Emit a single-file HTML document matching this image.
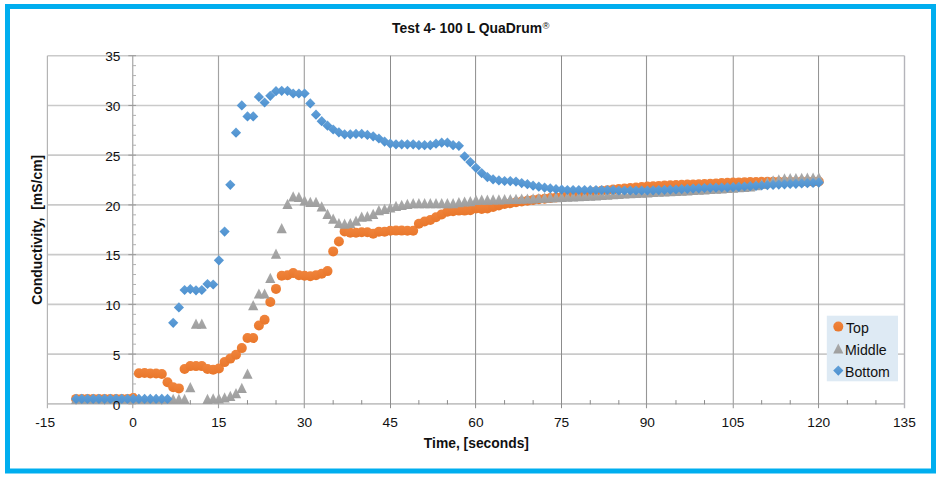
<!DOCTYPE html>
<html><head><meta charset="utf-8"><title>Test 4- 100 L QuaDrum</title>
<style>
html,body{margin:0;padding:0;background:#fff;}
body{width:940px;height:477px;overflow:hidden;}
svg{display:block;}
text{font-family:"Liberation Sans","Helvetica Neue",Helvetica,Arial,sans-serif;fill:#111;}
.b{font-weight:bold;}
</style></head><body>
<svg width="940" height="477" viewBox="0 0 940 477">
<defs>
<linearGradient id="go" x1="0" y1="0" x2="0" y2="1"><stop offset="0" stop-color="#F0843C"/><stop offset="1" stop-color="#E9772B"/></linearGradient>
<linearGradient id="gg" x1="0" y1="0" x2="0" y2="1"><stop offset="0" stop-color="#ABABAB"/><stop offset="1" stop-color="#9E9E9E"/></linearGradient>
<linearGradient id="gb" x1="0" y1="0" x2="0" y2="1"><stop offset="0" stop-color="#62A0D8"/><stop offset="1" stop-color="#4C90CF"/></linearGradient>
<circle id="c" r="5" fill="url(#go)"/>
<path id="t" d="M0-5.2L5.1 5H-5.1Z" fill="url(#gg)"/>
<path id="d" d="M0-5.1L5.1 0L0 5.1L-5.1 0Z" fill="url(#gb)"/>
</defs>
<rect x="0" y="0" width="940" height="477" fill="#fff"/>
<rect x="7.5" y="6.5" width="926" height="464.5" fill="#fff" stroke="#00AEEF" stroke-width="5"/>

<g stroke="#CACACA" stroke-width="1.6" fill="none">
<path d="M47.5 354.11H904.5"/>
<path d="M47.5 304.38H904.5"/>
<path d="M47.5 254.64H904.5"/>
<path d="M47.5 204.91H904.5"/>
<path d="M47.5 155.17H904.5"/>
<path d="M47.5 105.44H904.5"/>
<path d="M47.5 55.70H904.5"/>
</g>
<path d="M47.5 403.95H904.5" stroke="#C4C4C4" stroke-width="1.8" fill="none"/>
<path d="M218.50 55.7V408.2" stroke="#A2A2A2" stroke-width="1.15" fill="none"/>
<path d="M304.30 55.7V408.2" stroke="#A0A0A0" stroke-width="1.15" fill="none"/>
<path d="M390.50 55.7V408.2" stroke="#8C8C8C" stroke-width="1" fill="none"/>
<path d="M475.55 55.7V408.2" stroke="#969696" stroke-width="1.1" fill="none"/>
<path d="M561.50 55.7V408.2" stroke="#8C8C8C" stroke-width="1" fill="none"/>
<path d="M646.50 55.7V408.2" stroke="#969696" stroke-width="1.1" fill="none"/>
<path d="M733.30 55.7V408.2" stroke="#A4A4A4" stroke-width="1.2" fill="none"/>
<path d="M818.55 55.7V408.2" stroke="#909090" stroke-width="1" fill="none"/>
<path d="M47.40 55.7V408.2" stroke="#B4B4B4" stroke-width="1.2" fill="none"/>
<path d="M904.50 55.7V408.2" stroke="#B4B4BA" stroke-width="1.4" fill="none"/>
<path d="M132.75 55.7V408.2" stroke="#A6A6A6" stroke-width="1.2" fill="none"/>
<g stroke="#B0B0B0" stroke-width="1" fill="none">
<path d="M128.30 403.85H136.00" stroke="#9A9A9A"/>
<path d="M132.75 393.90H136.00"/>
<path d="M132.75 383.96H136.00"/>
<path d="M132.75 374.01H136.00"/>
<path d="M132.75 364.06H136.00"/>
<path d="M128.30 354.11H136.00" stroke="#9A9A9A"/>
<path d="M132.75 344.17H136.00"/>
<path d="M132.75 334.22H136.00"/>
<path d="M132.75 324.27H136.00"/>
<path d="M132.75 314.33H136.00"/>
<path d="M128.30 304.38H136.00" stroke="#9A9A9A"/>
<path d="M132.75 294.43H136.00"/>
<path d="M132.75 284.48H136.00"/>
<path d="M132.75 274.54H136.00"/>
<path d="M132.75 264.59H136.00"/>
<path d="M128.30 254.64H136.00" stroke="#9A9A9A"/>
<path d="M132.75 244.70H136.00"/>
<path d="M132.75 234.75H136.00"/>
<path d="M132.75 224.80H136.00"/>
<path d="M132.75 214.85H136.00"/>
<path d="M128.30 204.91H136.00" stroke="#9A9A9A"/>
<path d="M132.75 194.96H136.00"/>
<path d="M132.75 185.01H136.00"/>
<path d="M132.75 175.07H136.00"/>
<path d="M132.75 165.12H136.00"/>
<path d="M128.30 155.17H136.00" stroke="#9A9A9A"/>
<path d="M132.75 145.22H136.00"/>
<path d="M132.75 135.28H136.00"/>
<path d="M132.75 125.33H136.00"/>
<path d="M132.75 115.38H136.00"/>
<path d="M128.30 105.44H136.00" stroke="#9A9A9A"/>
<path d="M132.75 95.49H136.00"/>
<path d="M132.75 85.54H136.00"/>
<path d="M132.75 75.59H136.00"/>
<path d="M132.75 65.65H136.00"/>
<path d="M128.30 55.70H136.00" stroke="#9A9A9A"/>
</g>
<g stroke="#8A8A8A" stroke-width="1" fill="none">
<path d="M76.07 400.1V404.4"/>
<path d="M104.63 400.1V404.4"/>
<path d="M161.77 400.1V404.4"/>
<path d="M190.33 400.1V404.4"/>
<path d="M247.47 400.1V404.4"/>
<path d="M276.03 400.1V404.4"/>
<path d="M333.17 400.1V404.4"/>
<path d="M361.73 400.1V404.4"/>
<path d="M418.87 400.1V404.4"/>
<path d="M447.43 400.1V404.4"/>
<path d="M504.57 400.1V404.4"/>
<path d="M533.13 400.1V404.4"/>
<path d="M590.27 400.1V404.4"/>
<path d="M618.83 400.1V404.4"/>
<path d="M675.97 400.1V404.4"/>
<path d="M704.53 400.1V404.4"/>
<path d="M761.67 400.1V404.4"/>
<path d="M790.23 400.1V404.4"/>
<path d="M847.37 400.1V404.4"/>
<path d="M875.93 400.1V404.4"/>
</g>
<rect x="826.8" y="315.7" width="71.2" height="65.6" fill="#DEEAF4"/>
<g>
<use href="#c" x="76.1" y="398.9"/>
<use href="#c" x="81.8" y="398.9"/>
<use href="#c" x="87.5" y="398.9"/>
<use href="#c" x="93.2" y="398.9"/>
<use href="#c" x="98.9" y="398.9"/>
<use href="#c" x="104.6" y="398.9"/>
<use href="#c" x="110.3" y="398.9"/>
<use href="#c" x="116.1" y="398.9"/>
<use href="#c" x="121.8" y="398.9"/>
<use href="#c" x="127.5" y="398.9"/>
<use href="#c" x="133.2" y="398.1"/>
<use href="#c" x="138.9" y="373.2"/>
<use href="#c" x="144.6" y="373.0"/>
<use href="#c" x="150.3" y="373.5"/>
<use href="#c" x="156.1" y="373.5"/>
<use href="#c" x="161.8" y="374.0"/>
<use href="#c" x="167.5" y="382.3"/>
<use href="#c" x="173.2" y="387.3"/>
<use href="#c" x="178.9" y="388.4"/>
<use href="#c" x="184.6" y="369.0"/>
<use href="#c" x="190.3" y="366.1"/>
<use href="#c" x="196.0" y="366.1"/>
<use href="#c" x="201.8" y="366.1"/>
<use href="#c" x="207.5" y="369.0"/>
<use href="#c" x="213.2" y="369.7"/>
<use href="#c" x="218.9" y="368.5"/>
<use href="#c" x="224.6" y="362.1"/>
<use href="#c" x="230.3" y="358.6"/>
<use href="#c" x="236.0" y="354.8"/>
<use href="#c" x="241.8" y="348.1"/>
<use href="#c" x="247.5" y="338.0"/>
<use href="#c" x="253.2" y="338.0"/>
<use href="#c" x="258.9" y="325.5"/>
<use href="#c" x="264.6" y="319.8"/>
<use href="#c" x="270.3" y="302.0"/>
<use href="#c" x="276.0" y="288.9"/>
<use href="#c" x="281.7" y="275.8"/>
<use href="#c" x="287.5" y="275.2"/>
<use href="#c" x="293.2" y="273.1"/>
<use href="#c" x="298.9" y="275.2"/>
<use href="#c" x="304.6" y="275.8"/>
<use href="#c" x="310.3" y="276.2"/>
<use href="#c" x="316.0" y="275.2"/>
<use href="#c" x="321.7" y="273.7"/>
<use href="#c" x="327.5" y="271.1"/>
<use href="#c" x="333.2" y="251.4"/>
<use href="#c" x="338.9" y="241.5"/>
<use href="#c" x="344.6" y="231.5"/>
<use href="#c" x="350.3" y="232.8"/>
<use href="#c" x="356.0" y="232.8"/>
<use href="#c" x="361.7" y="232.3"/>
<use href="#c" x="367.4" y="232.3"/>
<use href="#c" x="373.2" y="233.8"/>
<use href="#c" x="378.9" y="231.8"/>
<use href="#c" x="384.6" y="231.8"/>
<use href="#c" x="390.3" y="230.8"/>
<use href="#c" x="396.0" y="230.6"/>
<use href="#c" x="401.7" y="230.6"/>
<use href="#c" x="407.4" y="230.8"/>
<use href="#c" x="413.2" y="230.8"/>
<use href="#c" x="418.9" y="223.8"/>
<use href="#c" x="424.6" y="221.5"/>
<use href="#c" x="430.3" y="220.0"/>
<use href="#c" x="436.0" y="217.3"/>
<use href="#c" x="441.7" y="214.4"/>
<use href="#c" x="447.4" y="211.7"/>
<use href="#c" x="453.1" y="211.3"/>
<use href="#c" x="458.9" y="210.6"/>
<use href="#c" x="464.6" y="210.6"/>
<use href="#c" x="470.3" y="210.2"/>
<use href="#c" x="476.0" y="208.5"/>
<use href="#c" x="481.7" y="208.9"/>
<use href="#c" x="487.4" y="208.5"/>
<use href="#c" x="493.1" y="206.9"/>
<use href="#c" x="498.9" y="205.4"/>
<use href="#c" x="504.6" y="203.9"/>
<use href="#c" x="510.3" y="203.3"/>
<use href="#c" x="516.0" y="202.2"/>
<use href="#c" x="521.7" y="201.5"/>
<use href="#c" x="527.4" y="200.7"/>
<use href="#c" x="533.1" y="199.9"/>
<use href="#c" x="538.8" y="199.3"/>
<use href="#c" x="544.6" y="198.7"/>
<use href="#c" x="550.3" y="198.1"/>
<use href="#c" x="556.0" y="197.5"/>
<use href="#c" x="561.7" y="196.9"/>
<use href="#c" x="567.4" y="196.0"/>
<use href="#c" x="573.1" y="195.0"/>
<use href="#c" x="578.8" y="194.0"/>
<use href="#c" x="584.6" y="193.0"/>
<use href="#c" x="590.3" y="192.0"/>
<use href="#c" x="596.0" y="191.4"/>
<use href="#c" x="601.7" y="190.8"/>
<use href="#c" x="607.4" y="190.2"/>
<use href="#c" x="613.1" y="189.6"/>
<use href="#c" x="618.8" y="189.0"/>
<use href="#c" x="624.5" y="188.5"/>
<use href="#c" x="630.3" y="188.0"/>
<use href="#c" x="636.0" y="187.5"/>
<use href="#c" x="641.7" y="187.0"/>
<use href="#c" x="647.4" y="186.5"/>
<use href="#c" x="653.1" y="186.2"/>
<use href="#c" x="658.8" y="185.9"/>
<use href="#c" x="664.5" y="185.6"/>
<use href="#c" x="670.3" y="185.3"/>
<use href="#c" x="676.0" y="185.0"/>
<use href="#c" x="681.7" y="184.8"/>
<use href="#c" x="687.4" y="184.6"/>
<use href="#c" x="693.1" y="184.4"/>
<use href="#c" x="698.8" y="184.2"/>
<use href="#c" x="704.5" y="184.0"/>
<use href="#c" x="710.2" y="183.7"/>
<use href="#c" x="716.0" y="183.4"/>
<use href="#c" x="721.7" y="183.1"/>
<use href="#c" x="727.4" y="182.8"/>
<use href="#c" x="733.1" y="182.5"/>
<use href="#c" x="738.8" y="182.4"/>
<use href="#c" x="744.5" y="182.2"/>
<use href="#c" x="750.2" y="182.1"/>
<use href="#c" x="756.0" y="182.0"/>
<use href="#c" x="761.7" y="181.8"/>
<use href="#c" x="767.4" y="181.8"/>
<use href="#c" x="773.1" y="181.8"/>
<use href="#c" x="778.8" y="181.7"/>
<use href="#c" x="784.5" y="181.7"/>
<use href="#c" x="790.2" y="181.7"/>
<use href="#c" x="795.9" y="181.7"/>
<use href="#c" x="801.7" y="181.6"/>
<use href="#c" x="807.4" y="181.6"/>
<use href="#c" x="813.1" y="181.6"/>
<use href="#c" x="818.8" y="181.5"/>
</g>
<g>
<use href="#t" x="76.1" y="398.9"/>
<use href="#t" x="81.8" y="398.9"/>
<use href="#t" x="87.5" y="398.9"/>
<use href="#t" x="93.2" y="398.9"/>
<use href="#t" x="98.9" y="398.9"/>
<use href="#t" x="104.6" y="398.9"/>
<use href="#t" x="110.3" y="398.9"/>
<use href="#t" x="116.1" y="398.9"/>
<use href="#t" x="121.8" y="398.9"/>
<use href="#t" x="127.5" y="398.9"/>
<use href="#t" x="133.2" y="398.9"/>
<use href="#t" x="138.9" y="398.9"/>
<use href="#t" x="144.6" y="398.9"/>
<use href="#t" x="150.3" y="398.9"/>
<use href="#t" x="156.1" y="398.9"/>
<use href="#t" x="161.8" y="398.9"/>
<use href="#t" x="167.5" y="398.9"/>
<use href="#t" x="173.2" y="398.9"/>
<use href="#t" x="178.9" y="398.9"/>
<use href="#t" x="184.6" y="398.9"/>
<use href="#t" x="190.3" y="387.3"/>
<use href="#t" x="196.0" y="323.7"/>
<use href="#t" x="201.8" y="323.7"/>
<use href="#t" x="207.5" y="398.9"/>
<use href="#t" x="213.2" y="398.4"/>
<use href="#t" x="218.9" y="398.4"/>
<use href="#t" x="224.6" y="397.4"/>
<use href="#t" x="230.3" y="395.9"/>
<use href="#t" x="236.0" y="393.2"/>
<use href="#t" x="241.8" y="387.9"/>
<use href="#t" x="247.5" y="373.7"/>
<use href="#t" x="253.2" y="305.2"/>
<use href="#t" x="258.9" y="293.6"/>
<use href="#t" x="264.6" y="293.6"/>
<use href="#t" x="270.3" y="277.9"/>
<use href="#t" x="276.0" y="253.8"/>
<use href="#t" x="281.7" y="228.3"/>
<use href="#t" x="287.5" y="203.9"/>
<use href="#t" x="293.2" y="196.5"/>
<use href="#t" x="298.9" y="196.9"/>
<use href="#t" x="304.6" y="200.4"/>
<use href="#t" x="310.3" y="201.9"/>
<use href="#t" x="316.0" y="201.9"/>
<use href="#t" x="321.7" y="206.4"/>
<use href="#t" x="327.5" y="213.9"/>
<use href="#t" x="333.2" y="218.8"/>
<use href="#t" x="338.9" y="223.1"/>
<use href="#t" x="344.6" y="223.8"/>
<use href="#t" x="350.3" y="223.1"/>
<use href="#t" x="356.0" y="220.8"/>
<use href="#t" x="361.7" y="216.8"/>
<use href="#t" x="367.4" y="216.3"/>
<use href="#t" x="373.2" y="213.9"/>
<use href="#t" x="378.9" y="210.2"/>
<use href="#t" x="384.6" y="208.9"/>
<use href="#t" x="390.3" y="207.4"/>
<use href="#t" x="396.0" y="205.9"/>
<use href="#t" x="401.7" y="204.9"/>
<use href="#t" x="407.4" y="203.9"/>
<use href="#t" x="413.2" y="203.3"/>
<use href="#t" x="418.9" y="203.3"/>
<use href="#t" x="424.6" y="203.3"/>
<use href="#t" x="430.3" y="203.3"/>
<use href="#t" x="436.0" y="203.3"/>
<use href="#t" x="441.7" y="203.3"/>
<use href="#t" x="447.4" y="203.3"/>
<use href="#t" x="453.1" y="203.3"/>
<use href="#t" x="458.9" y="202.2"/>
<use href="#t" x="464.6" y="201.6"/>
<use href="#t" x="470.3" y="201.2"/>
<use href="#t" x="476.0" y="199.9"/>
<use href="#t" x="481.7" y="199.8"/>
<use href="#t" x="487.4" y="199.7"/>
<use href="#t" x="493.1" y="199.5"/>
<use href="#t" x="498.9" y="199.4"/>
<use href="#t" x="504.6" y="199.2"/>
<use href="#t" x="510.3" y="199.1"/>
<use href="#t" x="516.0" y="198.9"/>
<use href="#t" x="521.7" y="198.8"/>
<use href="#t" x="527.4" y="198.6"/>
<use href="#t" x="533.1" y="198.4"/>
<use href="#t" x="538.8" y="198.1"/>
<use href="#t" x="544.6" y="197.8"/>
<use href="#t" x="550.3" y="197.5"/>
<use href="#t" x="556.0" y="197.2"/>
<use href="#t" x="561.7" y="196.9"/>
<use href="#t" x="567.4" y="196.7"/>
<use href="#t" x="573.1" y="196.5"/>
<use href="#t" x="578.8" y="196.2"/>
<use href="#t" x="584.6" y="196.0"/>
<use href="#t" x="590.3" y="195.8"/>
<use href="#t" x="596.0" y="195.4"/>
<use href="#t" x="601.7" y="195.0"/>
<use href="#t" x="607.4" y="194.7"/>
<use href="#t" x="613.1" y="194.3"/>
<use href="#t" x="618.8" y="194.0"/>
<use href="#t" x="624.5" y="193.6"/>
<use href="#t" x="630.3" y="193.3"/>
<use href="#t" x="636.0" y="193.0"/>
<use href="#t" x="641.7" y="192.7"/>
<use href="#t" x="647.4" y="192.4"/>
<use href="#t" x="653.1" y="192.1"/>
<use href="#t" x="658.8" y="191.8"/>
<use href="#t" x="664.5" y="191.5"/>
<use href="#t" x="670.3" y="191.3"/>
<use href="#t" x="676.0" y="191.0"/>
<use href="#t" x="681.7" y="190.7"/>
<use href="#t" x="687.4" y="190.4"/>
<use href="#t" x="693.1" y="190.1"/>
<use href="#t" x="698.8" y="189.8"/>
<use href="#t" x="704.5" y="189.5"/>
<use href="#t" x="710.2" y="189.1"/>
<use href="#t" x="716.0" y="188.8"/>
<use href="#t" x="721.7" y="188.4"/>
<use href="#t" x="727.4" y="188.1"/>
<use href="#t" x="733.1" y="187.7"/>
<use href="#t" x="738.8" y="187.3"/>
<use href="#t" x="744.5" y="186.9"/>
<use href="#t" x="750.2" y="186.5"/>
<use href="#t" x="756.0" y="185.3"/>
<use href="#t" x="761.7" y="184.0"/>
<use href="#t" x="767.4" y="182.2"/>
<use href="#t" x="773.1" y="180.5"/>
<use href="#t" x="778.8" y="179.5"/>
<use href="#t" x="784.5" y="178.5"/>
<use href="#t" x="790.2" y="178.3"/>
<use href="#t" x="795.9" y="178.1"/>
<use href="#t" x="801.7" y="177.9"/>
<use href="#t" x="807.4" y="177.7"/>
<use href="#t" x="813.1" y="177.6"/>
<use href="#t" x="818.8" y="177.5"/>
</g>
<g>
<use href="#d" x="76.1" y="398.9"/>
<use href="#d" x="81.8" y="398.9"/>
<use href="#d" x="87.5" y="398.9"/>
<use href="#d" x="93.2" y="398.9"/>
<use href="#d" x="98.9" y="398.9"/>
<use href="#d" x="104.6" y="398.9"/>
<use href="#d" x="110.3" y="398.9"/>
<use href="#d" x="116.1" y="398.9"/>
<use href="#d" x="121.8" y="398.9"/>
<use href="#d" x="127.5" y="398.9"/>
<use href="#d" x="133.2" y="398.9"/>
<use href="#d" x="138.9" y="398.9"/>
<use href="#d" x="144.6" y="398.9"/>
<use href="#d" x="150.3" y="398.9"/>
<use href="#d" x="156.1" y="398.9"/>
<use href="#d" x="161.8" y="398.9"/>
<use href="#d" x="167.5" y="398.9"/>
<use href="#d" x="173.2" y="322.8"/>
<use href="#d" x="178.9" y="307.4"/>
<use href="#d" x="184.6" y="290.0"/>
<use href="#d" x="190.3" y="289.2"/>
<use href="#d" x="196.0" y="290.3"/>
<use href="#d" x="201.8" y="290.0"/>
<use href="#d" x="207.5" y="284.0"/>
<use href="#d" x="213.2" y="284.5"/>
<use href="#d" x="218.9" y="260.3"/>
<use href="#d" x="224.6" y="231.6"/>
<use href="#d" x="230.3" y="184.8"/>
<use href="#d" x="236.0" y="132.7"/>
<use href="#d" x="241.8" y="105.4"/>
<use href="#d" x="247.5" y="116.4"/>
<use href="#d" x="253.2" y="116.4"/>
<use href="#d" x="258.9" y="96.9"/>
<use href="#d" x="264.6" y="102.5"/>
<use href="#d" x="270.3" y="95.8"/>
<use href="#d" x="276.0" y="91.2"/>
<use href="#d" x="281.7" y="90.8"/>
<use href="#d" x="287.5" y="90.8"/>
<use href="#d" x="293.2" y="93.5"/>
<use href="#d" x="298.9" y="93.5"/>
<use href="#d" x="304.6" y="93.5"/>
<use href="#d" x="310.3" y="103.4"/>
<use href="#d" x="316.0" y="114.7"/>
<use href="#d" x="321.7" y="121.2"/>
<use href="#d" x="327.5" y="125.7"/>
<use href="#d" x="333.2" y="129.5"/>
<use href="#d" x="338.9" y="132.3"/>
<use href="#d" x="344.6" y="134.3"/>
<use href="#d" x="350.3" y="134.3"/>
<use href="#d" x="356.0" y="133.9"/>
<use href="#d" x="361.7" y="133.9"/>
<use href="#d" x="367.4" y="134.9"/>
<use href="#d" x="373.2" y="136.3"/>
<use href="#d" x="378.9" y="138.5"/>
<use href="#d" x="384.6" y="141.6"/>
<use href="#d" x="390.3" y="143.7"/>
<use href="#d" x="396.0" y="144.3"/>
<use href="#d" x="401.7" y="144.3"/>
<use href="#d" x="407.4" y="144.3"/>
<use href="#d" x="413.2" y="144.3"/>
<use href="#d" x="418.9" y="145.2"/>
<use href="#d" x="424.6" y="145.2"/>
<use href="#d" x="430.3" y="145.2"/>
<use href="#d" x="436.0" y="143.7"/>
<use href="#d" x="441.7" y="142.7"/>
<use href="#d" x="447.4" y="142.7"/>
<use href="#d" x="453.1" y="145.2"/>
<use href="#d" x="458.9" y="145.8"/>
<use href="#d" x="464.6" y="156.3"/>
<use href="#d" x="470.3" y="162.1"/>
<use href="#d" x="476.0" y="167.8"/>
<use href="#d" x="481.7" y="173.1"/>
<use href="#d" x="487.4" y="177.1"/>
<use href="#d" x="493.1" y="179.3"/>
<use href="#d" x="498.9" y="180.4"/>
<use href="#d" x="504.6" y="181.0"/>
<use href="#d" x="510.3" y="181.1"/>
<use href="#d" x="516.0" y="181.6"/>
<use href="#d" x="521.7" y="183.1"/>
<use href="#d" x="527.4" y="184.2"/>
<use href="#d" x="533.1" y="185.7"/>
<use href="#d" x="538.8" y="186.7"/>
<use href="#d" x="544.6" y="187.6"/>
<use href="#d" x="550.3" y="188.4"/>
<use href="#d" x="556.0" y="189.2"/>
<use href="#d" x="561.7" y="189.6"/>
<use href="#d" x="567.4" y="190.0"/>
<use href="#d" x="573.1" y="190.0"/>
<use href="#d" x="578.8" y="190.0"/>
<use href="#d" x="584.6" y="190.0"/>
<use href="#d" x="590.3" y="190.0"/>
<use href="#d" x="596.0" y="190.0"/>
<use href="#d" x="601.7" y="190.0"/>
<use href="#d" x="607.4" y="190.0"/>
<use href="#d" x="613.1" y="190.0"/>
<use href="#d" x="618.8" y="190.5"/>
<use href="#d" x="624.5" y="190.5"/>
<use href="#d" x="630.3" y="190.5"/>
<use href="#d" x="636.0" y="190.5"/>
<use href="#d" x="641.7" y="190.5"/>
<use href="#d" x="647.4" y="190.5"/>
<use href="#d" x="653.1" y="190.3"/>
<use href="#d" x="658.8" y="190.1"/>
<use href="#d" x="664.5" y="189.9"/>
<use href="#d" x="670.3" y="189.7"/>
<use href="#d" x="676.0" y="189.5"/>
<use href="#d" x="681.7" y="189.2"/>
<use href="#d" x="687.4" y="188.9"/>
<use href="#d" x="693.1" y="188.6"/>
<use href="#d" x="698.8" y="188.3"/>
<use href="#d" x="704.5" y="188.0"/>
<use href="#d" x="710.2" y="187.8"/>
<use href="#d" x="716.0" y="187.7"/>
<use href="#d" x="721.7" y="187.5"/>
<use href="#d" x="727.4" y="187.4"/>
<use href="#d" x="733.1" y="187.2"/>
<use href="#d" x="738.8" y="186.9"/>
<use href="#d" x="744.5" y="186.5"/>
<use href="#d" x="750.2" y="186.2"/>
<use href="#d" x="756.0" y="185.8"/>
<use href="#d" x="761.7" y="185.5"/>
<use href="#d" x="767.4" y="185.2"/>
<use href="#d" x="773.1" y="184.9"/>
<use href="#d" x="778.8" y="184.6"/>
<use href="#d" x="784.5" y="184.3"/>
<use href="#d" x="790.2" y="184.0"/>
<use href="#d" x="795.9" y="183.8"/>
<use href="#d" x="801.7" y="183.5"/>
<use href="#d" x="807.4" y="183.2"/>
<use href="#d" x="813.1" y="183.0"/>
<use href="#d" x="818.8" y="182.7"/>
</g>
<g font-size="13.7px">
<text x="120.4" y="409.5" text-anchor="end">0</text>
<text x="120.4" y="359.7" text-anchor="end">5</text>
<text x="120.4" y="310.0" text-anchor="end">10</text>
<text x="120.4" y="260.2" text-anchor="end">15</text>
<text x="120.4" y="210.5" text-anchor="end">20</text>
<text x="120.4" y="160.8" text-anchor="end">25</text>
<text x="120.4" y="111.0" text-anchor="end">30</text>
<text x="120.4" y="61.3" text-anchor="end">35</text>
<text x="45.2" y="426.9" text-anchor="middle">-15</text>
<text x="133.1" y="426.9" text-anchor="middle">0</text>
<text x="218.8" y="426.9" text-anchor="middle">15</text>
<text x="304.5" y="426.9" text-anchor="middle">30</text>
<text x="390.2" y="426.9" text-anchor="middle">45</text>
<text x="475.9" y="426.9" text-anchor="middle">60</text>
<text x="561.6" y="426.9" text-anchor="middle">75</text>
<text x="647.3" y="426.9" text-anchor="middle">90</text>
<text x="733.0" y="426.9" text-anchor="middle">105</text>
<text x="818.7" y="426.9" text-anchor="middle">120</text>
<text x="904.4" y="426.9" text-anchor="middle">135</text>
</g>
<text class="b" font-size="13.9px" x="392" y="33">Test 4- 100 L QuaDrum<tspan font-size="9.4px" dy="-3.6" dx="0.4" font-weight="normal">®</tspan></text>
<text class="b" font-size="13.85px" x="476.4" y="448.3" text-anchor="middle">Time, [seconds]</text>
<text class="b" font-size="13.95px" transform="translate(42 229.8) rotate(-90)" text-anchor="middle" xml:space="preserve">Conductivity,  [mS/cm]</text>
<use href="#c" x="838.3" y="326.6"/><use href="#t" x="838.3" y="348.6"/><use href="#d" x="838.3" y="370.6"/>
<g font-size="14.15px"><text x="846" y="332.9">Top</text><text x="845" y="354.9">Middle</text><text x="845" y="376.9">Bottom</text></g>
</svg></body></html>
